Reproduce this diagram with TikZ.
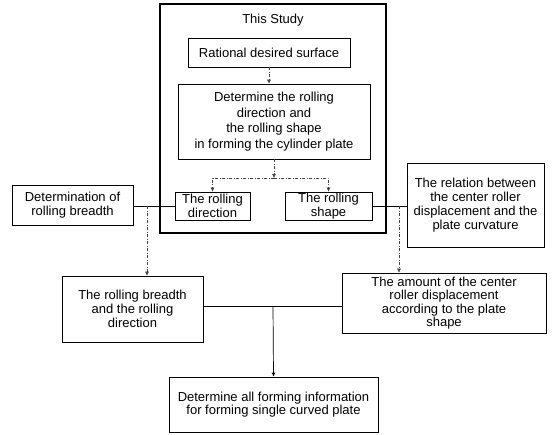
\documentclass[tikz,border=0pt]{standalone}
\usepackage{fontspec}
\setmainfont{Liberation Sans}
\usetikzlibrary{arrows.meta}
\tikzset{
	box/.style={draw, line width=0.7pt, align=center, inner sep=0pt, font=\fontsize{13}{14}\selectfont},
	flow/.style={line width=0.5pt, color=black!75, dash pattern=on 3pt off 1.5pt on 1pt off 1.5pt},
	link/.style={line width=0.7pt},
	tip/.style={-{Latex[length=4pt,width=4pt]}}
}

\begin{document}
\begin{tikzpicture}[x=1pt,y=-1pt]
			%%%%% START %%%%%
			\useasboundingbox (0,0) rectangle (553,434);
			
			% this study frame
			\draw[line width=1.6pt] (160,4) rectangle (386,233);
			\node[font=\fontsize{13}{14}\selectfont] (title) at (273,20) {This Study};
			
			\node[box, minimum width=162, minimum height=29] (surface) at (269,52.5) {Rational desired surface};
			\node[box, minimum width=192, minimum height=75, font=\fontsize{13}{15.5}\selectfont] (determine) at (274,121.5) {Determine the rolling\\direction and\\the rolling shape\\in forming the cylinder plate};
			\node[box, minimum width=75, minimum height=28] (direction) at (212.5,206) {The rolling\\direction};
			\node[box, minimum width=87, minimum height=28] (shape) at (328.5,206) {The rolling\\shape};
			
			% outside boxes
			\node[box, minimum width=121, minimum height=40] (breadth) at (72.5,205.5) {Determination of\\rolling breadth};
			\node[box, minimum width=137, minimum height=84] (relation) at (475.5,205) {The relation between\\the center roller\\displacement and the\\plate curvature};
			\node[box, minimum width=141, minimum height=66] (breadthdir) at (132.5,309) {The rolling breadth\\and the rolling\\direction};
			\node[box, minimum width=204, minimum height=60, font=\fontsize{13}{13.5}\selectfont] (amount) at (444,303) {The amount of the center\\roller displacement\\according to the plate\\shape};
			\node[box, minimum width=209, minimum height=55, font=\fontsize{13}{13.5}\selectfont] (forming) at (273.5,404.5) {Determine all forming information\\for forming single curved plate};
			
			\coordinate (split) at (274,178);
			\coordinate (jleft) at (147,206);
			\coordinate (jright) at (399,206);
			\coordinate (jbottom) at (273,306);
			
			% connectors
			\draw[flow, tip] (surface) -- (surface |- determine.north);
			\draw[flow, tip] (determine) -- (split);
			\draw[flow, tip] (split) -| (direction.north);
			\draw[flow, tip] (split) -| (shape.north);
			
			\draw[link] (breadth.east |- jleft) -- (direction.west |- jleft);
			\draw[flow, tip] (jleft) -- (jleft |- breadthdir.north);
			
			\draw[link] (shape.east |- jright) -- (relation.west |- jright);
			\draw[flow, tip] (jright) -- (jright |- amount.north);
			
			\draw[link] (breadthdir.east |- jbottom) -- (amount.west |- jbottom);
			\draw[link, tip] (jbottom) -- (forming.north);
			
			%%%%% END %%%%%
\end{tikzpicture}
\end{document}
